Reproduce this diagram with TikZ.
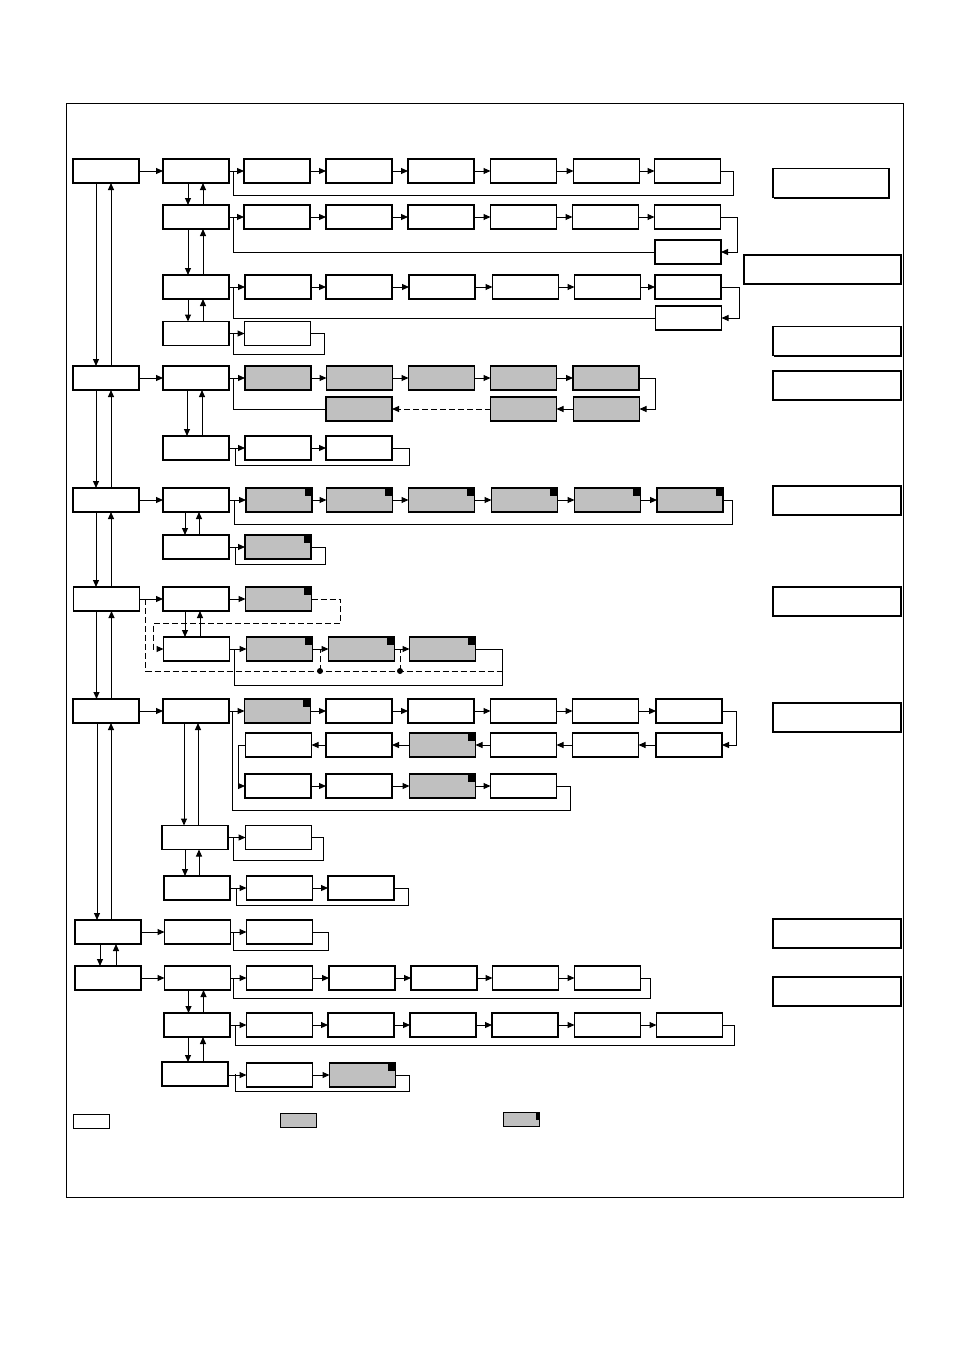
\documentclass[tikz,border=0pt]{standalone}
\usetikzlibrary{arrows.meta,shadows}
\definecolor{panel}{HTML}{C0C0C0}

\tikzset{
  box/.style={draw,line width=1.3pt,fill=white,minimum width=66pt,
    minimum height=24pt,inner sep=0pt,outer sep=0pt},
  gbox/.style={box,fill=panel},
  rbox/.style={box,minimum width=128pt,minimum height=29pt,
    general shadow={fill=black,shadow xshift=1.3pt,shadow yshift=-1.3pt}},
  keybox/.style={box,line width=1pt,minimum width=36pt,minimum height=14pt},
  link/.style={line width=1pt},
  dlink/.style={link,dash pattern=on 6pt off 3pt},
}

% two opposite arrows between stacked boxes
\newcommand\pair[4]{%
  \draw[link,->] ([xshift=#3]#1.south) -- ([xshift=#3]#1.south |- #2.north);
  \draw[link,->] ([xshift=#4]#1.south |- #2.north) -- ([xshift=#4]#1.south);}
% black mark in the top right corner of a box
\newcommand\corner[1]{%
  \fill ([xshift=-7.5pt,yshift=-7.5pt]#1.north east) rectangle (#1.north east);}

\begin{document}
\begin{tikzpicture}[x=1pt,y=-1pt,>={Triangle[length=7pt,width=6pt]}]
  \useasboundingbox (0,0) rectangle (955,1350);
  \draw[line width=1pt] (66,103) rectangle (903,1197);

  % main column
  \node[box] (m1) at (106,171) {};
  \node[box] (m2) at (106,378) {};
  \node[box] (m3) at (106,500) {};
  \node[box] (m4) at (106.5,599) {};
  \node[box] (m5) at (106,711) {};
  \node[box] (m6) at (108,932) {};
  \node[box] (m7) at (108,978) {};
  \pair{m1}{m2}{-10pt}{5pt}
  \pair{m2}{m3}{-10pt}{5pt}
  \pair{m3}{m4}{-10pt}{5pt}
  \pair{m4}{m5}{-10pt}{5pt}
  \pair{m5}{m6}{-9pt}{5pt}
  \pair{m6}{m7}{-8pt}{8pt}

  % right column
  \node[rbox,minimum width=116pt] (n1) at (831,183) {};
  \node[rbox,minimum width=157pt] (n2) at (822.5,269.5) {};
  \node[rbox] (n3) at (837,341) {};
  \node[rbox] (n4) at (837,385.5) {};
  \node[rbox] (n5) at (837,500.5) {};
  \node[rbox] (n6) at (837,601.5) {};
  \node[rbox] (n7) at (837,717.5) {};
  \node[rbox] (n8) at (837,933.5) {};
  \node[rbox] (n9) at (837,991.5) {};

  % first block
  \node[box] (a1) at (196,171) {};
  \draw[link,->] (m1) -- (a1);
  \foreach \i/\x [remember=\i as \j (initially 1)] in
    {2/277,3/359,4/441,5/523.5,6/606.5,7/687.5}{
    \node[box] (a\i) at (\x,171) {};
    \draw[link,->] (a\j) -- (a\i);}
  \draw[link] (a7.east) -| (733,195) -| ([xshift=4pt]a1.east);

  \node[box] (b1) at (196,217) {};
  \foreach \i/\x [remember=\i as \j (initially 1)] in
    {2/277,3/359,4/441,5/523.5,6/605.5,7/687.5}{
    \node[box] (b\i) at (\x,217) {};
    \draw[link,->] (b\j) -- (b\i);}
  \node[box] (b8) at (688,252) {};
  \draw[link,->] (b7.east) -- ++(17pt,0) |- (b8.east);
  \draw[link] (b8.west) -| ([xshift=4pt]b1.east);

  \node[box] (c1) at (196,287) {};
  \foreach \i/\x [remember=\i as \j (initially 1)] in
    {2/278,3/359,4/442,5/525.5,6/607.5,7/688}{
    \node[box] (c\i) at (\x,287) {};
    \draw[link,->] (c\j) -- (c\i);}
  \node[box] (c8) at (688.5,318) {};
  \draw[link,->] (c7.east) -- ++(18pt,0) |- (c8.east);
  \draw[link] (c8.west) -| ([xshift=4pt]c1.east);

  \node[box] (d1) at (196,333.5) {};
  \node[box] (d2) at (277.5,333.5) {};
  \draw[link,->] (d1) -- (d2);
  \draw[link] (d2.east) -| (324,354) -| ([xshift=4pt]d1.east);
  \pair{a1}{b1}{-8pt}{7pt}
  \pair{b1}{c1}{-8pt}{7pt}
  \pair{c1}{d1}{-8pt}{7pt}

  % second block
  \node[box] (e1) at (196,378) {};
  \draw[link,->] (m2) -- (e1);
  \foreach \i/\x [remember=\i as \j (initially 1)] in
    {2/278,3/359.5,4/441.5,5/523.5,6/606}{
    \node[gbox] (e\i) at (\x,378) {};
    \draw[link,->] (e\j) -- (e\i);}
  \node[gbox] (e7) at (606.5,409) {};
  \node[gbox] (e8) at (523.5,409) {};
  \node[gbox] (e9) at (359,409) {};
  \draw[link,->] (e6.east) -- ++(16pt,0) |- (e7.east);
  \draw[link,->] (e7) -- (e8);
  \draw[dlink,->] (e8) -- (e9);
  \draw[link] (e9.west) -| ([xshift=4pt]e1.east);

  \node[box] (f1) at (196,448) {};
  \node[box] (f2) at (278,448) {};
  \node[box] (f3) at (359,448) {};
  \draw[link,->] (f1) -- (f2);
  \draw[link,->] (f2) -- (f3);
  \draw[link] (f3.east) -| (409,465) -| ([xshift=6pt]f1.east);
  \pair{e1}{f1}{-9pt}{6pt}

  % third block
  \node[box] (g1) at (196,500) {};
  \draw[link,->] (m3) -- (g1);
  \foreach \i/\x [remember=\i as \j (initially 1)] in
    {2/279,3/359.5,4/441.5,5/524.5,6/607.5,7/690}{
    \node[gbox] (g\i) at (\x,500) {};
    \corner{g\i}
    \draw[link,->] (g\j) -- (g\i);}
  \draw[link] (g7.east) -| (732,524) -| ([xshift=5pt]g1.east);

  \node[box] (h1) at (196,547) {};
  \node[gbox] (h2) at (278,547) {};
  \corner{h2}
  \draw[link,->] (h1) -- (h2);
  \draw[link] (h2.east) -| (325,564) -| ([xshift=6pt]h1.east);
  \pair{g1}{h1}{-11pt}{3pt}

  % fourth block
  \node[box] (i1) at (196,599) {};
  \node[gbox] (i2) at (278.5,599) {};
  \corner{i2}
  \draw[link,->] (m4) -- (i1);
  \draw[link,->] (i1) -- (i2);

  \node[box] (j1) at (196.5,649) {};
  \foreach \i/\x [remember=\i as \j (initially 1)] in
    {2/279.5,3/361.5,4/442.5}{
    \node[gbox] (j\i) at (\x,649) {};
    \corner{j\i}
    \draw[link,->] (j\j) -- (j\i);}
  \draw[link] (j4.east) -| (502,685) -| ([xshift=5pt]j1.east);
  \pair{i1}{j1}{-11pt}{4pt}

  \coordinate (t1) at (320,671);
  \coordinate (t2) at (400,671);
  \draw[dlink,->] (i2.east) -- ++(29pt,0) |- (153,623) |- (j1.west);
  \draw[dlink] ([xshift=6pt]m4.east) |- (502,671);
  \draw[dlink] (t1) -- (t1 |- j2.east);
  \draw[dlink] (t2) -- (t2 |- j3.east);
  \fill (t1) circle (3pt);
  \fill (t2) circle (3pt);

  % fifth block
  \node[box] (k1) at (196,711) {};
  \draw[link,->] (m5) -- (k1);
  \foreach \i/\x/\s [remember=\i as \j (initially 1)] in
    {2/277.5/gbox,3/359/box,4/441/box,5/523.5/box,6/605.5/box,7/689/box}{
    \node[\s] (k\i) at (\x,711) {};
    \draw[link,->] (k\j) -- (k\i);}
  \node[box] (k8) at (689,745) {};
  \draw[link,->] (k7.east) -- ++(14pt,0) |- (k8.east);
  \foreach \i/\x/\s [remember=\i as \j (initially 8)] in
    {9/605.5/box,10/523.5/box,11/442.5/gbox,12/359/box,13/278.5/box}{
    \node[\s] (k\i) at (\x,745) {};
    \draw[link,->] (k\j) -- (k\i);}
  \node[box] (k14) at (278,786) {};
  \draw[link,->] (k13.west) -- ++(-7pt,0) |- (k14.west);
  \foreach \i/\x/\s [remember=\i as \j (initially 14)] in
    {15/359/box,16/442.5/gbox,17/523.5/box}{
    \node[\s] (k\i) at (\x,786) {};
    \draw[link,->] (k\j) -- (k\i);}
  \corner{k2}
  \corner{k11}
  \corner{k16}
  \draw[link] (k17.east) -| (570,810) -| ([xshift=3pt]k1.east);

  \node[box] (l1) at (195,837.5) {};
  \node[box] (l2) at (278.5,837.5) {};
  \draw[link,->] (l1) -- (l2);
  \draw[link] (l2.east) -| (323,860) -| ([xshift=5pt]l1.east);
  \pair{k1}{l1}{-12pt}{2pt}

  \node[box] (p1) at (197,888) {};
  \node[box] (p2) at (279.5,888) {};
  \node[box] (p3) at (361,888) {};
  \draw[link,->] (p1) -- (p2);
  \draw[link,->] (p2) -- (p3);
  \draw[link] (p3.east) -| (408,905) -| ([xshift=6pt]p1.east);
  \pair{l1}{p1}{-10pt}{4pt}

  % sixth block
  \node[box] (q1) at (197.5,932) {};
  \node[box] (q2) at (279.5,932) {};
  \draw[link,->] (m6) -- (q1);
  \draw[link,->] (q1) -- (q2);
  \draw[link] (q2.east) -| (328,950) -| ([xshift=3pt]q1.east);

  \node[box] (r1) at (197.5,978) {};
  \draw[link,->] (m7) -- (r1);
  \foreach \i/\x [remember=\i as \j (initially 1)] in
    {2/279.5,3/362,4/444,5/525.5,6/607.5}{
    \node[box] (r\i) at (\x,978) {};
    \draw[link,->] (r\j) -- (r\i);}
  \draw[link] (r6.east) -| (650,998) -| ([xshift=3pt]r1.east);

  \node[box] (s1) at (197,1025) {};
  \foreach \i/\x [remember=\i as \j (initially 1)] in
    {2/279.5,3/361,4/443,5/525,6/607.5,7/689.5}{
    \node[box] (s\i) at (\x,1025) {};
    \draw[link,->] (s\j) -- (s\i);}
  \draw[link] (s7.east) -| (734,1045) -| ([xshift=5pt]s1.east);
  \pair{r1}{s1}{-9pt}{6pt}

  \node[box] (u1) at (195,1074) {};
  \node[box] (u2) at (279.5,1075) {};
  \node[gbox] (u3) at (362.5,1075) {};
  \corner{u3}
  \draw[link,->] (u1.east |- u2.west) -- (u2);
  \draw[link,->] (u2) -- (u3);
  \draw[link] (u3.east) -| (409,1091) -| ([xshift=7pt]u1.east);
  \pair{s1}{u1}{-9pt}{6pt}

  % key
  \node[keybox] (w1) at (91,1121) {};
  \node[keybox,fill=panel] (w2) at (298,1120) {};
  \node[keybox,fill=panel] (w3) at (521,1119) {};
  \fill ([xshift=-3.5pt,yshift=-8pt]w3.north east) rectangle (w3.north east);
\end{tikzpicture}
\end{document}
